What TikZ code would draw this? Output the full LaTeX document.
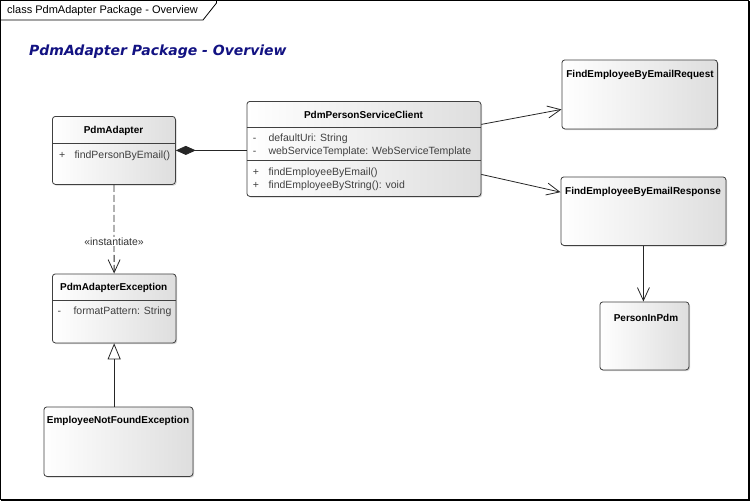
\documentclass[tikz,border=0pt]{standalone}
\usepackage{fontspec}
\setmainfont{Liberation Sans}
\newfontfamily\headfont{DejaVu Sans}
\usepackage{xcolor}
\usetikzlibrary{arrows.meta, positioning, shadows}
\definecolor{headblue}{RGB}{18,18,130}

\begin{document}
\begin{tikzpicture}[x=1pt, y=-1pt,
  cbox/.style={rectangle, draw=black!75, line width=0.8pt, rounded corners=3pt,
               left color=white, right color=black!13, anchor=north west, inner sep=0pt,
               drop shadow={shadow xshift=1.2pt, shadow yshift=-1.2pt, opacity=0.35}},
  ctitle/.style={font=\fontsize{10}{12}\selectfont\bfseries, inner sep=0pt},
  member/.style={font=\fontsize{10.5}{12}\selectfont, text=black!75, anchor=base west, inner sep=0pt},
  sep/.style={draw=black!75, line width=0.8pt},
  link/.style={draw=black!85, line width=0.8pt},
  arr/.style={link, -{Straight Barb[length=13pt, width=12pt]}},
  dep/.style={arr, dash pattern=on 7pt off 3pt},
  comp/.style={link, -{Diamond[length=20pt, width=9pt]}},
  gen/.style={link, -{Triangle[length=16pt, width=13pt, fill=white]}},
  stereo/.style={font=\fontsize{10.5}{12}\selectfont, text=black!80, fill=white, inner sep=1pt}
]
\useasboundingbox (0,0) rectangle (751,501);
%% Diagram frame and name tab
\draw[line width=1pt] (0.5,0.5) rectangle (748.5,499.5);
\draw[line width=1.5pt] (749,1) -- (749,500) -- (1,500);
\draw[line width=0.8pt] (0.5,20) -- (203,20) -- (216.5,3) -- (216.5,0.5);
\node[anchor=west, inner sep=0pt, font=\fontsize{11}{12}\selectfont] (tab) at (7,11) {class PdmAdapter Package - Overview};
\node[anchor=west, inner sep=0pt, text=headblue,
      font=\fontsize{14}{16}\headfont\bfseries\itshape] (heading) at (29,52) {PdmAdapter Package - Overview};
%% PdmAdapter
\node[cbox, minimum width=123pt, minimum height=68pt] (adapter) at (52,116) {};
\node[ctitle] (adapterT) at (113.5,131) {PdmAdapter};
\draw[sep] (52,143) -- (175,143);
\node[member] (adapterV1) at (59,158) {+};
\node[member] (adapterM1) at (74.3,158) {findPersonByEmail()};
%% PdmPersonServiceClient
\node[cbox, minimum width=234pt, minimum height=95pt] (client) at (246.5,101) {};
\node[ctitle] (clientT) at (363.5,115) {PdmPersonServiceClient};
\draw[sep] (246.5,127.5) -- (480.5,127.5);
\node[member] (clientV1) at (252.7,141.7) {-};
\node[member] (clientA1) at (268.3,141.7) {defaultUri: String};
\node[member] (clientV2) at (252.7,154.7) {-};
\node[member] (clientA2) at (268.3,154.7) {webServiceTemplate: WebServiceTemplate};
\draw[sep] (246.5,160) -- (480.5,160);
\node[member] (clientV3) at (252.7,175.7) {+};
\node[member] (clientM1) at (268.3,175.7) {findEmployeeByEmail()};
\node[member] (clientV4) at (252.7,188.7) {+};
\node[member] (clientM2) at (268.3,188.7) {findEmployeeByString(): void};
%% Exceptions
\node[cbox, minimum width=123.5pt, minimum height=69pt] (exc) at (52,273.5) {};
\node[ctitle] (excT) at (113.7,288.3) {PdmAdapterException};
\draw[sep] (52,300) -- (175.5,300);
\node[member] (excV1) at (57.3,314.7) {-};
\node[member] (excA1) at (73.3,314.7) {formatPattern: String};
\node[cbox, minimum width=149pt, minimum height=69.5pt] (notfound) at (43.5,406.5) {};
\node[ctitle] (notfoundT) at (118,420.7) {EmployeeNotFoundException};
%% Web service messages
\node[cbox, minimum width=155.5pt, minimum height=69pt] (request) at (561.5,59.5) {};
\node[ctitle] (requestT) at (640,75) {FindEmployeeByEmailRequest};
\node[cbox, minimum width=165pt, minimum height=68.5pt] (response) at (560.5,176.5) {};
\node[ctitle] (responseT) at (643,191.7) {FindEmployeeByEmailResponse};
\node[cbox, minimum width=89pt, minimum height=68pt] (person) at (599.5,301.5) {};
\node[ctitle] (personT) at (646,317.7) {PersonInPdm};
%% Relations
\draw[comp] (client.west |- adapter.east) -- (adapter.east);
\draw[dep] (adapter.south) -- node[stereo, pos=0.64] {«instantiate»} (exc.north);
\draw[gen] (exc.south |- notfound.north) -- (exc.south);
\draw[arr] ([yshift=24.5pt]client.east) -- ([yshift=-15pt]request.west);
\draw[arr] ([yshift=-25.5pt]client.east) -- ([yshift=19pt]response.west);
\draw[arr] (response.south) -- (response.south |- person.north);
\end{tikzpicture}
\end{document}
